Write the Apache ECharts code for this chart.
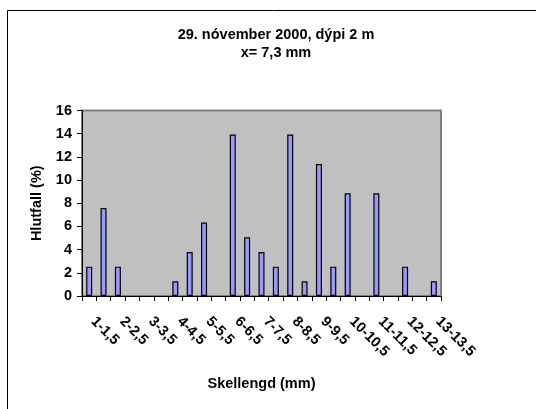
<!DOCTYPE html>
<html><head><meta charset="utf-8">
<script src="https://cdn.jsdelivr.net/npm/echarts@6/dist/echarts.min.js"></script>
<style>html,body{margin:0;padding:0;background:#fff}#c{width:536px;height:409px}</style>
</head><body><div id="c"></div>
<script>
const titleLine1 = '29. nóvember 2000, dýpi 2 m';
const titleLine2 = 'x= 7,3 mm';
const xAxisName = 'Skellengd (mm)';
const yAxisName = 'Hlutfall (%)';
const categories = ['1-1,5','1,5-2','2-2,5','2,5-3','3-3,5','3,5-4','4-4,5','4,5-5','5-5,5','5,5-6',
  '6-6,5','6,5-7','7-7,5','7,5-8','8-8,5','8,5-9','9-9,5','9,5-10','10-10,5','10,5-11',
  '11-11,5','11,5-12','12-12,5','12,5-13','13-13,5'];
const values = [2.53, 7.59, 2.53, null, null, null, 1.27, 3.80, 6.33, null,
  13.92, 5.06, 3.80, 2.53, 13.92, 1.27, 11.39, 2.53, 8.86, null,
  8.86, null, 2.53, null, 1.27];
const yMin = 0, yMax = 16, yStep = 2;

const FONT = "'Liberation Sans', Arial, sans-serif";
const FS = 14.5;
const chart = echarts.init(document.getElementById('c'), null, {renderer: 'canvas'});
chart.setOption({
  animation: false,
  backgroundColor: '#ffffff',
  graphic: [
    {type: 'rect', shape: {x: 7.5, y: 10.5, width: 560, height: 420}, style: {fill: 'none', stroke: '#000', lineWidth: 1}, silent: true, z: -10},
    {type: 'text', style: {x: 276, y: 35, text: titleLine1, textAlign: 'center', textVerticalAlign: 'middle', font: 'bold ' + FS + 'px ' + FONT, fill: '#000'}},
    {type: 'text', style: {x: 276, y: 53, text: titleLine2, textAlign: 'center', textVerticalAlign: 'middle', font: 'bold ' + FS + 'px ' + FONT, fill: '#000'}}
  ],
  grid: {left: 82, top: 110.5, right: 95, bottom: 113, show: true, backgroundColor: '#c0c0c0', borderColor: '#808080', borderWidth: 2},
  xAxis: {
    type: 'category', data: categories,
    name: xAxisName, nameLocation: 'middle', nameGap: 80,
    nameTextStyle: {fontFamily: FONT, fontWeight: 'bold', fontSize: FS, color: '#000'},
    axisLine: {show: true, lineStyle: {color: '#000', width: 1}},
    axisTick: {show: true, interval: 0, length: 5, alignWithLabel: false, lineStyle: {color: '#000'}},
    axisLabel: {interval: 1, rotate: -45, margin: 19, padding: [0, 0, 0, 6], fontFamily: FONT, fontWeight: 'bold', fontSize: FS, color: '#000'},
    splitLine: {show: false}
  },
  yAxis: {
    type: 'value', min: yMin, max: yMax, interval: yStep,
    name: yAxisName, nameLocation: 'middle', nameGap: 38, nameRotate: 90,
    nameTextStyle: {fontFamily: FONT, fontWeight: 'bold', fontSize: FS, color: '#000'},
    axisLine: {show: true, lineStyle: {color: '#000', width: 1}},
    axisTick: {show: true, length: 5, lineStyle: {color: '#000'}},
    axisLabel: {margin: 10, fontFamily: FONT, fontWeight: 'bold', fontSize: FS, color: '#000'},
    splitLine: {show: false}
  },
  series: [{
    type: 'bar', data: values, barWidth: 6,
    itemStyle: {color: '#9999ff', borderColor: '#000', borderWidth: 1.2}
  }]
});
</script></body></html>
